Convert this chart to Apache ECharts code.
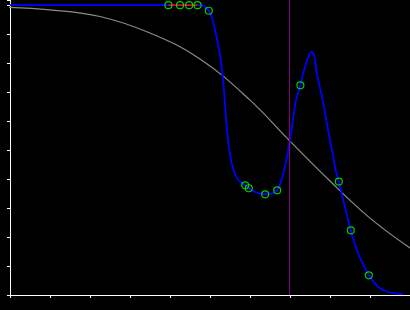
<!DOCTYPE html>
<html>
<head>
<meta charset="utf-8">
<script src="https://cdn.jsdelivr.net/npm/echarts@6/dist/echarts.min.js"></script>
<style>
html,body{margin:0;padding:0;background:#000;}
#c{width:410px;height:310px;}
</style>
</head>
<body>
<div id="c"></div>
<script>
// Sample points (green markers)
const sampleX = [3.96, 4.25, 4.48, 4.69, 4.97, 5.88, 5.97, 6.38, 6.68, 7.26, 8.22, 8.52, 8.97];
const sampleY = [9.99, 9.99, 9.99, 9.99, 9.80, 3.78, 3.68, 3.47, 3.61, 7.23, 3.91, 2.23, 0.68];

// Interpolating curve (blue)
const curveX = [0, 3.96, 4.25, 4.48, 4.69, 4.85, 4.97, 5.04, 5.10, 5.18, 5.26, 5.34, 5.43, 5.50, 5.58, 5.68, 5.78, 5.88, 5.97, 6.15, 6.38, 6.55, 6.68, 6.79, 6.90, 7.0, 7.08, 7.15, 7.26, 7.33, 7.43, 7.49, 7.54, 7.59, 7.63, 7.67, 7.74, 7.82, 7.91, 8.0, 8.08, 8.14, 8.22, 8.37, 8.52, 8.62, 8.72, 8.85, 8.97, 9.12, 9.25, 9.4, 9.55, 9.83];
const curveY = [9.99, 9.99, 9.99, 9.99, 9.99, 9.96, 9.80, 9.6, 9.3, 8.79, 8.2, 7.2, 5.6, 4.85, 4.35, 4.02, 3.87, 3.78, 3.68, 3.54, 3.47, 3.5, 3.61, 3.97, 4.6, 5.34, 6.1, 6.72, 7.23, 7.64, 8.1, 8.31, 8.39, 8.3, 8.05, 7.64, 7.2, 6.72, 6.0, 5.34, 4.8, 4.31, 3.91, 3.05, 2.23, 1.75, 1.38, 1.0, 0.68, 0.4, 0.23, 0.13, 0.07, 0.02];

// Reference sigmoid (gray)
const sigX = [-0.25, 1.0, 2.25, 3.5, 4.75, 6.0, 6.975, 8.0, 9.0, 10.0];
const sigY = [9.93, 9.83, 9.6, 9.03, 8.14, 6.72, 5.34, 3.93, 2.65, 1.62];

// Red segment across the flat top samples
const flatCount = 4;

// Vertical marker line position
const markX = 6.975;

const xTicks = [0, 1, 2, 3, 4, 5, 6, 7, 8, 9, 10];
const yTicks = [0, 1, 2, 3, 4, 5, 6, 7, 8, 9, 10];

const zip = (a, b) => a.map((v, i) => [v, b[i]]);

const chart = echarts.init(document.getElementById('c'), null, {renderer: 'canvas'});
chart.setOption({
  backgroundColor: '#000',
  animation: false,
  grid: {left: 10, right: 0, top: 0, bottom: 15, containLabel: false},
  xAxis: {
    type: 'value', min: xTicks[0], max: xTicks[xTicks.length - 1], interval: 1,
    axisLine: {show: true, onZero: false, lineStyle: {color: '#fff', width: 1}},
    axisTick: {show: true, inside: false, length: 3, lineStyle: {color: '#fff', width: 1}},
    axisLabel: {show: false},
    splitLine: {show: false}
  },
  yAxis: {
    type: 'value', min: yTicks[0], max: 10.17, interval: 1,
    axisLine: {show: true, onZero: false, lineStyle: {color: '#fff', width: 1}},
    axisTick: {show: true, inside: false, length: 3, lineStyle: {color: '#fff', width: 1}},
    axisLabel: {show: false},
    splitLine: {show: false}
  },
  series: [
    {
      type: 'line', data: zip(sigX, sigY), smooth: 0.4, showSymbol: false, clip: false,
      lineStyle: {color: '#8c8c8c', width: 1.2}, z: 1,
      markLine: {
        silent: true, symbol: ['none', 'none'], label: {show: false},
        lineStyle: {color: '#800080', width: 1, type: 'solid'},
        data: [{xAxis: markX}]
      }
    },
    {
      type: 'line', data: zip(curveX, curveY), smooth: 0.3, showSymbol: false,
      lineStyle: {color: '#0000ff', width: 1.8}, z: 2
    },
    {
      type: 'line', data: zip(sampleX.slice(0, flatCount), sampleY.slice(0, flatCount)), showSymbol: false,
      lineStyle: {color: '#ff0000', width: 1.5}, z: 3
    },
    {
      type: 'scatter', data: zip(sampleX, sampleY), symbol: 'circle', symbolSize: 7,
      itemStyle: {color: 'rgba(0,0,0,0)', borderColor: '#00ff00', borderWidth: 1.2}, z: 4
    }
  ]
});
</script>
</body>
</html>
